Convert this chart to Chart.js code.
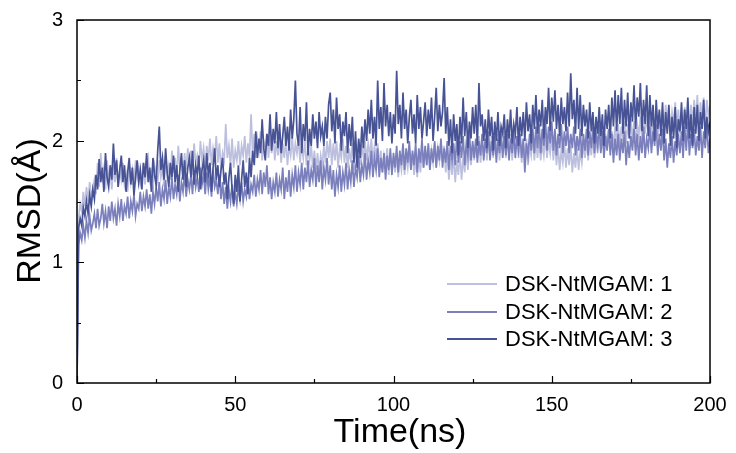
<!DOCTYPE html>
<html lang="en">
<head>
<meta charset="UTF-8">
<title>RMSD</title>
<script src="https://cdn.jsdelivr.net/npm/chart.js"></script>
<style>
  body { margin: 0; background: #fff; }
  #wrap { width: 736px; height: 453px; }
</style>
</head>
<body>
<div id="wrap"><canvas id="c" width="736" height="453"></canvas></div>
<script>
// RMSD traces, one value every 0.5 ns from 0 to 200 ns
const timeStepNs = 0.5;
const seriesNames = ['DSK-NtMGAM: 1', 'DSK-NtMGAM: 2', 'DSK-NtMGAM: 3'];
const seriesColors = ['#bcbfdd', '#7b80bd', '#475394'];
const xTicks = [0, 50, 100, 150, 200];
const yTicks = [0, 1, 2, 3];

const rmsd1 = [0,
  1.36,1.48,1.42,1.58,1.46,1.62,1.50,1.66,1.54,1.60,
  1.68,1.56,1.82,1.62,1.90,1.70,1.78,1.60,1.84,1.68,
  1.74,1.60,1.80,1.66,1.86,1.62,1.76,1.68,1.82,1.64,
  1.72,1.58,1.80,1.66,1.76,1.62,1.84,1.70,1.78,1.64,
  1.70,1.82,1.64,1.78,1.86,1.68,1.74,1.60,1.80,1.72,
  1.66,1.84,1.70,1.78,1.62,1.88,1.72,1.80,1.68,1.92,
  1.74,1.86,1.70,1.96,1.78,1.84,1.68,1.90,1.76,1.94,
  1.80,1.92,1.72,1.98,1.82,1.88,1.76,2.00,1.84,1.94,
  1.78,1.96,1.84,2.02,1.80,1.94,1.86,2.04,1.82,1.98,
  1.76,1.90,1.84,2.14,1.86,1.96,1.80,2.02,1.78,1.92,
  1.84,2.00,1.80,1.96,1.88,2.04,1.82,1.98,1.86,2.22,
  1.90,2.06,1.86,2.02,1.92,2.08,1.84,2.00,1.94,2.06,
  1.86,2.02,1.90,2.06,1.84,2.00,1.88,2.04,1.82,1.98,
  1.86,2.02,1.80,1.96,1.88,2.04,1.84,1.98,1.90,2.02,
  1.82,1.98,1.86,2.00,1.80,1.94,1.84,1.96,1.78,1.92,
  1.76,1.90,1.74,1.88,1.80,1.96,1.82,2.00,1.86,2.02,
  1.80,1.98,1.84,2.00,1.78,1.94,1.86,2.02,1.82,1.96,
  1.78,1.94,1.82,1.98,1.76,1.92,1.84,2.00,1.80,1.96,
  1.86,2.00,1.84,1.98,1.88,2.02,1.82,1.96,1.86,1.98,
  1.78,1.92,1.74,1.88,1.80,1.94,1.72,1.90,1.76,1.86,
  1.74,1.90,1.70,1.86,1.76,1.92,1.72,1.88,1.78,1.94,
  1.76,1.90,1.72,1.86,1.70,1.88,1.74,1.92,1.78,1.94,
  1.80,1.96,1.76,1.92,1.82,1.98,1.78,1.94,1.84,2.00,
  1.82,1.96,1.74,1.90,1.68,1.86,1.72,1.88,1.66,1.84,
  1.72,1.90,1.68,1.86,1.74,1.92,1.76,1.94,1.80,1.96,
  1.84,2.00,1.86,2.04,1.82,1.98,1.88,2.02,1.84,2.00,
  1.88,2.04,1.86,2.02,1.90,2.06,1.84,2.00,1.92,2.08,
  1.86,2.02,1.88,2.06,1.84,2.00,1.90,2.04,1.86,2.00,
  1.82,1.98,1.86,2.02,1.80,1.96,1.88,2.04,1.84,2.00,
  1.86,2.02,1.84,1.98,1.88,2.04,1.86,2.00,1.90,2.06,
  1.84,2.00,1.80,1.96,1.76,1.92,1.82,1.98,1.78,1.94,
  1.80,1.96,1.74,1.90,1.78,1.94,1.76,1.92,1.82,1.98,
  1.86,2.02,1.84,2.00,1.88,2.04,1.86,2.02,1.90,2.06,
  1.92,2.08,1.90,2.06,1.94,2.10,1.92,2.08,1.96,2.12,
  1.98,2.14,1.96,2.12,2.00,2.16,1.98,2.14,2.02,2.18,
  2.00,2.16,1.98,2.14,2.04,2.20,2.00,2.18,2.06,2.22,
  2.04,2.20,2.02,2.18,2.06,2.22,2.04,2.24,2.08,2.26,
  2.10,2.30,2.12,2.28,2.08,2.24,2.14,2.32,2.10,2.26,
  2.06,2.22,2.10,2.28,2.08,2.24,2.12,2.30,2.14,2.34,
  2.16,2.38,2.14,2.32,2.18,2.36,2.12,2.34,2.20,2.30
];

const rmsd2 = [0,
  1.14,1.24,1.18,1.30,1.20,1.34,1.24,1.38,1.26,1.32,
  1.40,1.28,1.44,1.30,1.36,1.48,1.32,1.42,1.28,1.46,
  1.34,1.50,1.36,1.44,1.30,1.48,1.38,1.52,1.34,1.46,
  1.40,1.54,1.36,1.50,1.42,1.56,1.38,1.48,1.44,1.58,
  1.42,1.54,1.46,1.60,1.44,1.56,1.40,1.58,1.48,1.62,
  1.50,1.66,1.46,1.60,1.52,1.68,1.48,1.62,1.54,1.70,
  1.52,1.64,1.56,1.72,1.50,1.66,1.58,1.74,1.54,1.68,
  1.60,1.72,1.56,1.76,1.62,1.70,1.58,1.78,1.64,1.72,
  1.56,1.74,1.60,1.70,1.54,1.76,1.62,1.68,1.56,1.72,
  1.52,1.66,1.48,1.62,1.44,1.60,1.50,1.64,1.46,1.58,
  1.48,1.62,1.52,1.66,1.50,1.60,1.54,1.70,1.52,1.64,
  1.58,1.72,1.54,1.68,1.60,1.76,1.56,1.74,1.62,1.80,
  1.56,1.70,1.52,1.66,1.58,1.74,1.54,1.68,1.60,1.78,
  1.52,1.70,1.58,1.76,1.54,1.72,1.62,1.80,1.58,1.74,
  1.64,1.82,1.60,1.78,1.66,1.84,1.62,1.76,1.68,1.86,
  1.62,1.80,1.66,1.84,1.60,1.78,1.68,1.86,1.64,1.80,
  1.60,1.76,1.54,1.72,1.62,1.80,1.58,1.74,1.64,1.82,
  1.60,1.76,1.66,1.84,1.62,1.78,1.70,1.88,1.66,1.80,
  1.72,1.90,1.68,1.84,1.74,1.92,1.70,1.86,1.76,1.94,
  1.70,1.86,1.74,1.90,1.68,1.88,1.76,1.94,1.72,1.90,
  1.78,1.96,1.74,1.92,1.80,1.98,1.76,1.94,1.82,2.00,
  1.76,1.92,1.80,1.98,1.74,1.94,1.82,2.02,1.78,1.96,
  1.80,1.98,1.76,1.94,1.82,2.00,1.78,1.96,1.84,2.02,
  1.78,1.94,1.82,2.00,1.76,1.96,1.84,1.98,1.80,2.04,
  1.82,2.00,1.86,2.04,1.80,1.98,1.88,2.06,1.84,2.00,
  1.86,2.02,1.82,2.00,1.88,2.06,1.84,2.02,1.90,2.08,
  1.84,2.00,1.88,2.04,1.82,2.02,1.90,2.06,1.86,2.04,
  1.88,2.06,1.84,2.02,1.90,2.08,1.86,2.04,1.92,2.06,
  1.86,2.02,1.74,1.98,1.88,2.06,1.92,2.10,1.90,2.12,
  1.94,2.14,1.90,2.10,1.96,2.18,1.92,2.12,1.98,2.16,
  1.92,2.10,1.88,2.06,1.94,2.14,1.90,2.08,1.96,2.12,
  1.90,2.06,1.94,2.12,1.88,2.04,1.92,2.10,1.86,2.06,
  1.92,2.10,1.88,2.08,1.94,2.12,1.90,2.06,1.96,2.14,
  1.90,2.08,1.86,2.04,1.92,2.10,1.88,2.06,1.82,2.02,
  1.88,2.06,1.84,2.02,1.90,2.08,1.80,2.00,1.86,2.04,
  1.92,2.10,1.88,2.06,1.84,2.04,1.90,2.12,1.86,2.02,
  1.94,2.12,1.90,2.08,1.96,2.14,1.88,2.06,1.92,2.10,
  1.84,2.02,1.78,1.98,1.86,2.04,1.82,2.00,1.88,2.06,
  1.90,2.08,1.86,2.12,1.92,2.16,1.88,2.06,1.94,2.10,
  1.88,2.04,1.92,2.12,1.86,2.08,1.94,2.14,1.90,2.02
];

const rmsd3 = [0,
  1.28,1.36,1.30,1.45,1.38,1.50,1.40,1.55,1.46,1.60,
  1.52,1.72,1.60,1.85,1.66,1.78,1.58,1.90,1.70,1.62,
  1.80,1.68,1.98,1.72,1.84,1.62,1.76,1.88,1.66,1.80,
  1.58,1.74,1.86,1.64,1.78,1.55,1.70,1.84,1.66,1.76,
  1.60,1.82,1.70,1.90,1.66,1.78,1.58,1.86,1.72,1.64,
  1.92,2.12,1.76,1.86,1.68,1.94,1.74,1.62,1.82,1.70,
  1.88,1.66,1.80,1.58,1.76,1.90,1.68,1.84,1.62,1.78,
  1.86,1.70,1.92,1.64,1.80,1.72,1.88,1.60,1.76,1.84,
  1.66,1.90,1.72,1.82,1.58,1.78,1.94,1.68,1.80,1.62,
  1.76,1.86,1.64,1.74,1.52,1.70,1.82,1.60,1.48,1.72,
  1.58,1.80,1.50,1.68,1.84,1.62,1.74,1.56,1.86,1.70,
  1.92,1.80,2.08,1.86,2.02,1.90,2.18,1.94,1.84,2.06,
  1.96,2.22,1.92,2.10,1.98,2.24,1.94,2.14,1.90,2.04,
  2.20,1.96,2.12,1.92,2.26,2.02,2.18,2.50,2.06,1.96,
  2.28,1.90,2.14,2.00,2.32,1.88,2.10,1.96,2.22,2.02,
  2.16,1.94,2.24,2.04,2.12,1.96,2.20,2.02,2.30,2.40,
  2.08,2.26,1.98,2.36,2.10,2.22,1.92,2.16,2.04,2.24,
  1.90,2.14,1.96,2.20,1.82,2.08,1.78,2.02,1.86,2.12,
  1.94,2.18,2.00,2.26,2.06,2.34,2.02,2.20,1.96,2.50,
  2.10,2.28,2.00,2.48,2.12,2.30,2.04,2.24,1.98,2.22,
  2.06,2.58,2.14,2.30,2.02,2.40,2.10,2.26,1.98,2.20,
  2.34,2.06,2.22,1.98,2.38,2.10,2.28,2.02,2.16,2.32,
  2.04,2.26,2.10,2.36,2.00,2.20,2.44,2.08,2.30,2.12,
  2.24,2.52,2.06,2.28,1.96,2.18,1.90,2.22,2.00,2.14,
  1.88,2.20,1.98,2.36,2.04,2.24,1.94,2.16,2.02,2.28,
  2.06,2.30,1.96,2.48,2.12,2.22,2.00,2.18,1.94,2.26,
  2.04,2.20,1.92,2.16,2.00,2.24,1.96,2.12,2.06,2.22,
  1.94,2.18,2.02,2.26,1.98,2.14,2.06,2.28,1.96,2.20,
  2.04,2.24,2.00,2.32,2.08,2.22,1.98,2.30,2.10,2.38,
  2.06,2.26,2.12,2.34,2.02,2.28,2.14,2.44,2.08,2.36,
  2.16,2.42,2.10,2.30,2.04,2.36,2.14,2.28,2.08,2.40,
  2.12,2.56,2.18,2.34,2.06,2.44,2.10,2.38,2.04,2.30,
  2.12,2.26,2.02,2.32,2.08,2.24,1.98,2.20,2.06,2.28,
  2.04,2.22,1.96,2.26,2.10,2.30,2.02,2.36,2.12,2.42,
  2.08,2.38,2.14,2.44,2.06,2.34,2.12,2.40,2.02,2.32,
  2.16,2.46,2.10,2.36,2.20,2.48,2.08,2.34,2.14,2.46,
  2.04,2.38,2.12,2.30,2.00,2.34,2.10,2.26,2.04,2.32,
  1.98,2.24,2.06,2.30,1.96,2.20,2.02,2.28,1.94,2.18,
  2.08,2.32,2.00,2.26,2.10,2.36,2.02,2.22,1.96,2.28,
  2.06,2.30,2.00,2.24,2.10,2.34,2.02,2.20,2.08,2.16
];

const allSeries = [rmsd1, rmsd2, rmsd3];
const FONT = '"Liberation Sans", Arial, sans-serif';

function toPoints(arr) {
  return arr.map((v, i) => ({ x: i * timeStepNs, y: v }));
}

// frame, inward ticks, axis titles and legend
const decorPlugin = {
  id: 'decor',
  afterDraw(chart) {
    const ctx = chart.ctx;
    const a = chart.chartArea;
    const xs = chart.scales.x, ys = chart.scales.y;
    ctx.save();
    ctx.strokeStyle = '#000';
    ctx.lineWidth = 1.5;
    ctx.strokeRect(a.left, a.top, a.right - a.left, a.bottom - a.top);

    ctx.lineWidth = 1.2;
    ctx.beginPath();
    for (let t = 0; t <= 200; t += 25) {
      const px = Math.round(xs.getPixelForValue(t)) + 0.5;
      const len = t % 50 === 0 ? 7 : 4;
      ctx.moveTo(px, a.bottom); ctx.lineTo(px, a.bottom - len);
    }
    for (let v = 0; v <= 3; v += 0.5) {
      const py = Math.round(ys.getPixelForValue(v)) + 0.5;
      const len = v % 1 === 0 ? 7 : 4;
      ctx.moveTo(a.left, py); ctx.lineTo(a.left + len, py);
    }
    ctx.stroke();

    ctx.fillStyle = '#000';
    ctx.font = '34px ' + FONT;
    ctx.textAlign = 'center';
    ctx.textBaseline = 'middle';
    ctx.fillText('Time(ns)', 400, 433);
    ctx.save();
    ctx.translate(31, 211);
    ctx.rotate(-Math.PI / 2);
    ctx.fillText('RMSD(Å)', 0, 0);
    ctx.restore();

    ctx.font = '22px ' + FONT;
    ctx.textAlign = 'left';
    const legendY = [284, 312, 339];
    seriesNames.forEach((name, i) => {
      ctx.strokeStyle = seriesColors[i];
      ctx.lineWidth = 2;
      ctx.beginPath();
      ctx.moveTo(447, legendY[i]); ctx.lineTo(497, legendY[i]);
      ctx.stroke();
      ctx.fillText(name, 505, legendY[i] + 1);
    });
    ctx.restore();
  }
};

new Chart(document.getElementById('c'), {
  type: 'line',
  data: {
    datasets: allSeries.map((arr, i) => ({
      label: seriesNames[i],
      data: toPoints(arr),
      borderColor: seriesColors[i],
      borderWidth: 1.7,
      pointRadius: 0,
      tension: 0,
      order: 3 - i
    }))
  },
  options: {
    responsive: false,
    animation: false,
    layout: { padding: { top: 20, right: 26, left: 0, bottom: 0 } },
    plugins: { legend: { display: false }, tooltip: { enabled: false } },
    scales: {
      x: {
        type: 'linear', min: 0, max: 200,
        afterFit: s => { s.height = 70; },
        afterBuildTicks: s => { s.ticks = xTicks.map(v => ({ value: v })); },
        grid: { display: false }, border: { display: false },
        ticks: { color: '#000', font: { size: 20, family: FONT }, padding: 2, maxRotation: 0 }
      },
      y: {
        min: 0, max: 3,
        afterFit: s => { s.width = 77; },
        afterBuildTicks: s => { s.ticks = yTicks.map(v => ({ value: v })); },
        grid: { display: false }, border: { display: false },
        ticks: { color: '#000', font: { size: 20, family: FONT }, padding: 6 }
      }
    }
  },
  plugins: [decorPlugin]
});
</script>
</body>
</html>
